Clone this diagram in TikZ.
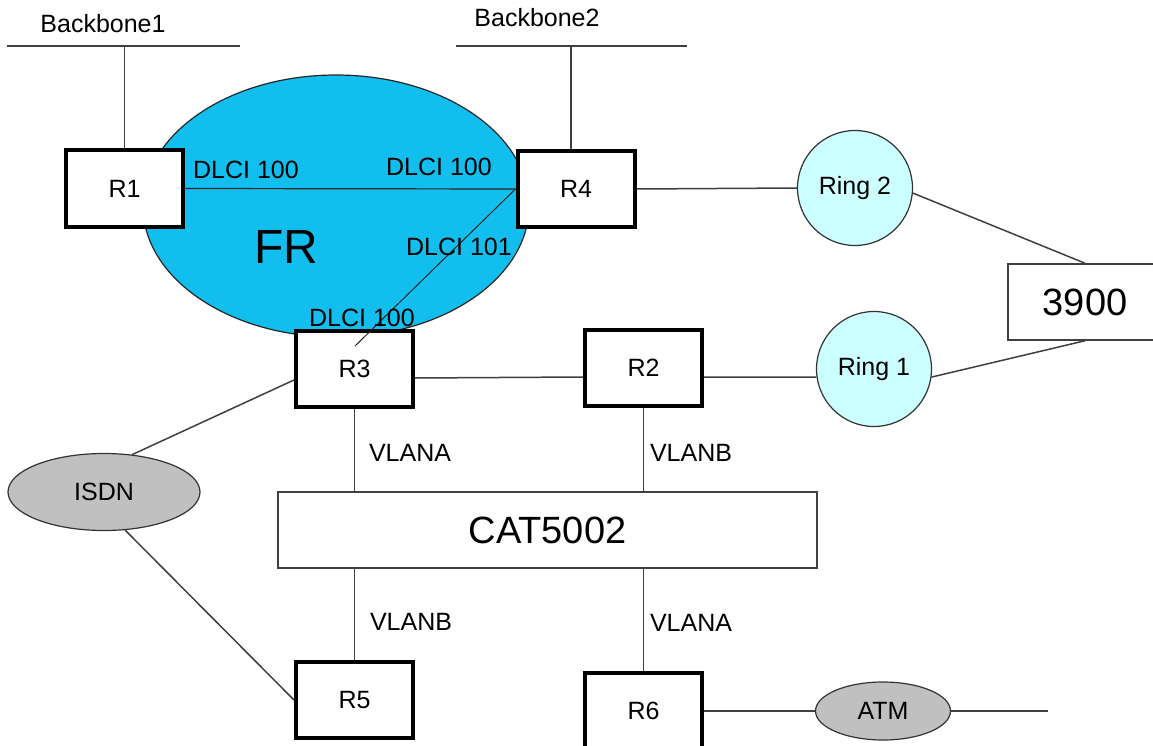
\documentclass[tikz,border=0pt]{standalone}
\usepackage{fontspec}
\setmainfont{Liberation Sans}
\usetikzlibrary{shapes.geometric}

\definecolor{frblue}{RGB}{18,190,238}
\definecolor{ringcyan}{RGB}{204,255,255}
\definecolor{wangray}{RGB}{192,192,192}
\definecolor{wiregray}{RGB}{64,64,64}

\begin{document}
\begin{tikzpicture}[x=1pt, y=-1pt,
    wire/.style={draw=wiregray, line width=1.5pt},
    router/.style={draw=black, line width=4pt, fill=white, minimum width=117pt,
      minimum height=76pt, inner sep=0pt, font=\fontsize{25}{30}\selectfont},
    switchbox/.style={draw=wiregray, line width=1.5pt, fill=white, minimum height=76pt,
      inner sep=0pt, font=\fontsize{38}{44}\selectfont},
    ringnode/.style={circle, draw=black!80, line width=1.2pt, fill=ringcyan,
      minimum size=115pt, inner sep=0pt, font=\fontsize{25}{30}\selectfont},
    wancloud/.style={ellipse, draw=black!80, line width=1.2pt, fill=wangray,
      inner sep=0pt, font=\fontsize{25}{30}\selectfont},
    lbl/.style={inner sep=0pt, font=\fontsize{25}{30}\selectfont}]

  % Page
  \fill [white] (0,0) rectangle (1153,746);
  \useasboundingbox (0,0) rectangle (1153,746);

  % Frame relay cloud
  \node [ellipse, draw=black!85, line width=1.2pt, fill=frblue, minimum width=386pt,
    minimum height=262pt] (fr) at (336,206) {};
  \node [inner sep=0pt, font=\fontsize{48}{56}\selectfont] (frlabel) at (286,247) {FR};

  % Backbones
  \coordinate (bb1w) at (7,46);
  \coordinate (bb1e) at (240,46);
  \coordinate (bb2w) at (456,46);
  \coordinate (bb2e) at (687,46);
  \node [lbl] (bb1label) at (103,24) {Backbone1};
  \node [lbl] (bb2label) at (537,18) {Backbone2};

  % Routers
  \node [router] (r1) at (124.5,188.5) {R1};
  \node [router] (r4) at (576,189) {R4};
  \node [router] (r3) at (354.5,369) {R3};
  \node [router] (r2) at (643.5,368) {R2};
  \node [router] (r5) at (354.5,700) {R5};
  \node [router] (r6) at (643.5,711) {R6};

  % Switches, rings and WAN clouds
  \node [switchbox, minimum width=539pt] (cat) at (547.5,530) {CAT5002};
  \node [switchbox, minimum width=154pt] (sw3900) at (1085,302) {3900};
  \node [ringnode] (ring2) at (855,188) {Ring 2};
  \node [ringnode] (ring1) at (874,369) {Ring 1};
  \node [wancloud, minimum width=192pt, minimum height=77pt] (isdn) at (104,492) {ISDN};
  \node [wancloud, minimum width=135pt, minimum height=58pt] (atm) at (883,711) {ATM};
  \coordinate (r3in) at (355,346);
  \coordinate (atmend) at (1048,711);

  % Links
  \draw [wire] (bb1w) -- (bb1e);
  \draw [wire] (bb2w) -- (bb2e);
  \draw [wire] (r1.north) -- (r1.north |- bb1w);
  \draw [wire] ([xshift=-5pt]r4.north) -- ([xshift=-5pt]r4.north |- bb2w);
  \draw [line width=1.2pt, draw=black!85] (r1.east) -- (r4.west);
  \draw [line width=1pt, draw=black!85] (r4.west) -- (r3in);
  \draw [wire] (r4.east) -- (ring2.west);
  \draw [wire] (ring2.-5) -- (sw3900.north);
  \draw [wire] (ring1.-8) -- (sw3900.south);
  \draw [wire] ([yshift=-9pt]r3.east) -- ([yshift=-9pt]r2.west);
  \draw [wire] ([yshift=-9pt]r2.east) -- (ring1.188);
  \draw [wire] ([yshift=-11pt]r3.west) -- (isdn.53);
  \draw [wire] (isdn.-61) -- (r5.west);
  \draw [wire] (r3.south) -- (r3.south |- cat.north);
  \draw [wire] (r2.south) -- (r2.south |- cat.north);
  \draw [wire] (r5.north) -- (r5.north |- cat.south);
  \draw [wire] (r6.north) -- (r6.north |- cat.south);
  \draw [wire] (r6.east) -- (atm.west);
  \draw [wire] (atm.east) -- (atmend);

  % DLCI labels
  \node [lbl] (dlcir1) at (246,170) {DLCI 100};
  \node [lbl] (dlcir4) at (439,167) {DLCI 100};
  \node [lbl] (dlcir4b) at (459,247) {DLCI 101};
  \node [lbl] (dlcir3) at (362,318) {DLCI 100};

  % VLAN labels
  \node [lbl] (vlanr3) at (410,453) {VLANA};
  \node [lbl] (vlanr2) at (691,453) {VLANB};
  \node [lbl] (vlanr5) at (411,622) {VLANB};
  \node [lbl] (vlanr6) at (691,623) {VLANA};

\end{tikzpicture}
\end{document}
